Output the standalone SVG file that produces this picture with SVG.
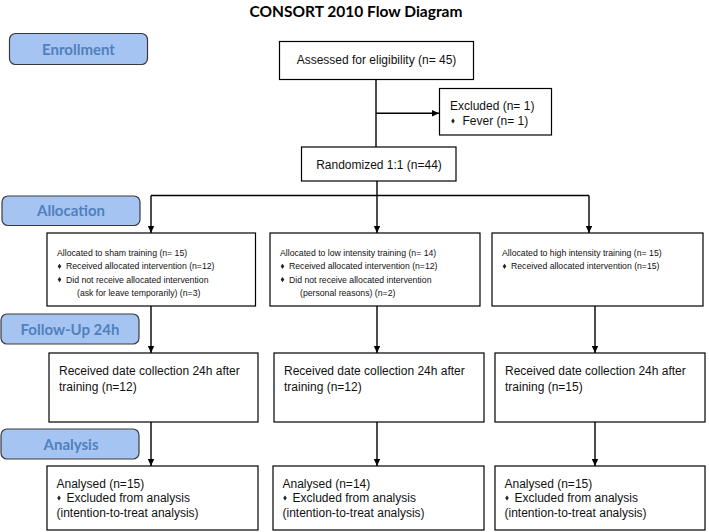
<svg xmlns="http://www.w3.org/2000/svg" xmlns:xlink="http://www.w3.org/1999/xlink" width="709" height="532" viewBox="0 0 709 532">
  <style>
    .title { font-family: Lato, "Open Sans", sans-serif; font-weight: bold; font-size: 15.5px; fill: #000; }
    .stage rect { fill: #a6c4f2; stroke: #3a3a3a; stroke-width: 1.2; }
    .stage text { font-family: Lato, "Open Sans", sans-serif; font-weight: bold; font-size: 15px; fill: #4f81bd; text-anchor: middle; }
    .box rect { fill: #fff; stroke: #000; stroke-width: 1.2; }
    .t12 { font-family: "Liberation Sans", Arial, sans-serif; font-size: 12px; fill: #111; }
    .t9 { font-family: "Liberation Sans", Arial, sans-serif; font-size: 8.7px; fill: #111; }
    .conn line { stroke: #000; stroke-width: 1.4; fill: none; }
  </style>
  <defs>
    <marker id="arr" markerUnits="userSpaceOnUse" markerWidth="8" markerHeight="8" refX="7" refY="4" orient="auto">
      <path d="M0,0.8 L7,4 L0,7.2 Z" fill="#000"/>
    </marker>
    <path id="dia" d="M0,-2.6 L1.8,0 L0,2.6 L-1.8,0 Z" fill="#222"/>
  </defs>

  <rect width="709" height="532" fill="#fff"/>

  <text class="title" x="356" y="17" text-anchor="middle">CONSORT 2010 Flow Diagram</text>

  <!-- Stage labels -->
  <g id="stage-enrollment" class="stage">
    <rect x="9.5" y="33.5" width="138" height="31" rx="6"/>
    <text x="78.5" y="54.5">Enrollment</text>
  </g>
  <g id="stage-allocation" class="stage">
    <rect x="2" y="196" width="138" height="29.5" rx="6"/>
    <text x="71" y="216">Allocation</text>
  </g>
  <g id="stage-followup" class="stage">
    <rect x="1" y="314" width="138" height="30" rx="6"/>
    <text x="70" y="334.5">Follow-Up 24h</text>
  </g>
  <g id="stage-analysis" class="stage">
    <rect x="1" y="429" width="138" height="30" rx="6"/>
    <text x="71" y="449.5">Analysis</text>
  </g>

  <!-- Connectors -->
  <g id="connectors" class="conn">
    <line x1="376" y1="79.5" x2="376" y2="147"/>
    <line x1="376" y1="113.3" x2="439" y2="113.3" marker-end="url(#arr)"/>
    <line x1="377" y1="181" x2="377" y2="195.5"/>
    <line x1="151" y1="195.5" x2="589" y2="195.5"/>
    <line x1="151" y1="195.5" x2="151" y2="233" marker-end="url(#arr)"/>
    <line x1="377" y1="195.5" x2="377" y2="233" marker-end="url(#arr)"/>
    <line x1="589" y1="195.5" x2="589" y2="233" marker-end="url(#arr)"/>
    <line x1="151" y1="306" x2="151" y2="353" marker-end="url(#arr)"/>
    <line x1="377" y1="306" x2="377" y2="353" marker-end="url(#arr)"/>
    <line x1="595" y1="306" x2="595" y2="353" marker-end="url(#arr)"/>
    <line x1="151" y1="422" x2="151" y2="466" marker-end="url(#arr)"/>
    <line x1="377" y1="422" x2="377" y2="466" marker-end="url(#arr)"/>
    <line x1="595" y1="422" x2="595" y2="466" marker-end="url(#arr)"/>
  </g>

  <!-- Enrollment -->
  <g id="assessed" class="box">
    <rect x="279.5" y="41.5" width="194" height="38"/>
    <text class="t12" x="376.5" y="64" text-anchor="middle">Assessed for eligibility (n= 45)</text>
  </g>
  <g id="excluded" class="box">
    <rect x="439.5" y="88.5" width="112" height="46.5"/>
    <text class="t12" x="450" y="110">Excluded (n= 1)</text>
    <use xlink:href="#dia" x="453" y="121"/>
    <text class="t12" x="462.5" y="125">Fever (n= 1)</text>
  </g>
  <g id="randomized" class="box">
    <rect x="301.5" y="147" width="154.5" height="34"/>
    <text class="t12" x="379" y="168.5" text-anchor="middle">Randomized 1:1 (n=44)</text>
  </g>

  <!-- Allocation -->
  <g id="alloc-sham" class="box">
    <rect x="47" y="233" width="208.5" height="73"/>
    <text class="t9" x="57" y="256">Allocated to sham training (n= 15)</text>
    <use xlink:href="#dia" x="59.5" y="266.3"/>
    <text class="t9" x="66" y="269.3">Received allocated intervention (n=12)</text>
    <use xlink:href="#dia" x="59.5" y="279.6"/>
    <text class="t9" x="66" y="282.6">Did not receive allocated intervention</text>
    <text class="t9" x="77" y="296">(ask for leave temporarily) (n=3)</text>
  </g>
  <g id="alloc-low" class="box">
    <rect x="270" y="233" width="210" height="73"/>
    <text class="t9" x="280" y="256">Allocated to low intensity training (n= 14)</text>
    <use xlink:href="#dia" x="282.5" y="266.3"/>
    <text class="t9" x="289" y="269.3">Received allocated intervention (n=12)</text>
    <use xlink:href="#dia" x="282.5" y="279.6"/>
    <text class="t9" x="289" y="282.6">Did not receive allocated intervention</text>
    <text class="t9" x="300" y="296">(personal reasons) (n=2)</text>
  </g>
  <g id="alloc-high" class="box">
    <rect x="492" y="233" width="211" height="73"/>
    <text class="t9" x="502" y="256">Allocated to high intensity training (n= 15)</text>
    <use xlink:href="#dia" x="504.5" y="266.3"/>
    <text class="t9" x="511" y="269.3">Received allocated intervention (n=15)</text>
  </g>

  <!-- Follow-up -->
  <g id="followup-sham" class="box">
    <rect x="49" y="353" width="209" height="69"/>
    <text class="t12" x="59" y="375">Received date collection 24h after</text>
    <text class="t12" x="59" y="391">training (n=12)</text>
  </g>
  <g id="followup-low" class="box">
    <rect x="274" y="353" width="210" height="69"/>
    <text class="t12" x="284" y="375">Received date collection 24h after</text>
    <text class="t12" x="284" y="391">training (n=12)</text>
  </g>
  <g id="followup-high" class="box">
    <rect x="495" y="353" width="210" height="69"/>
    <text class="t12" x="505" y="375">Received date collection 24h after</text>
    <text class="t12" x="505" y="391">training (n=15)</text>
  </g>

  <!-- Analysis -->
  <g id="analysis-sham" class="box">
    <rect x="47" y="466" width="211" height="64"/>
    <text class="t12" x="56.5" y="487.5">Analysed (n=15)</text>
    <use xlink:href="#dia" x="59" y="498"/>
    <text class="t12" x="66.5" y="502">Excluded from analysis</text>
    <text class="t12" x="56.5" y="516.5">(intention-to-treat analysis)</text>
  </g>
  <g id="analysis-low" class="box">
    <rect x="273" y="466" width="211" height="64"/>
    <text class="t12" x="282.5" y="487.5">Analysed (n=14)</text>
    <use xlink:href="#dia" x="285" y="498"/>
    <text class="t12" x="292.5" y="502">Excluded from analysis</text>
    <text class="t12" x="282.5" y="516.5">(intention-to-treat analysis)</text>
  </g>
  <g id="analysis-high" class="box">
    <rect x="495" y="466" width="210" height="64"/>
    <text class="t12" x="504.5" y="487.5">Analysed (n=15)</text>
    <use xlink:href="#dia" x="507" y="498"/>
    <text class="t12" x="514.5" y="502">Excluded from analysis</text>
    <text class="t12" x="504.5" y="516.5">(intention-to-treat analysis)</text>
  </g>
</svg>
